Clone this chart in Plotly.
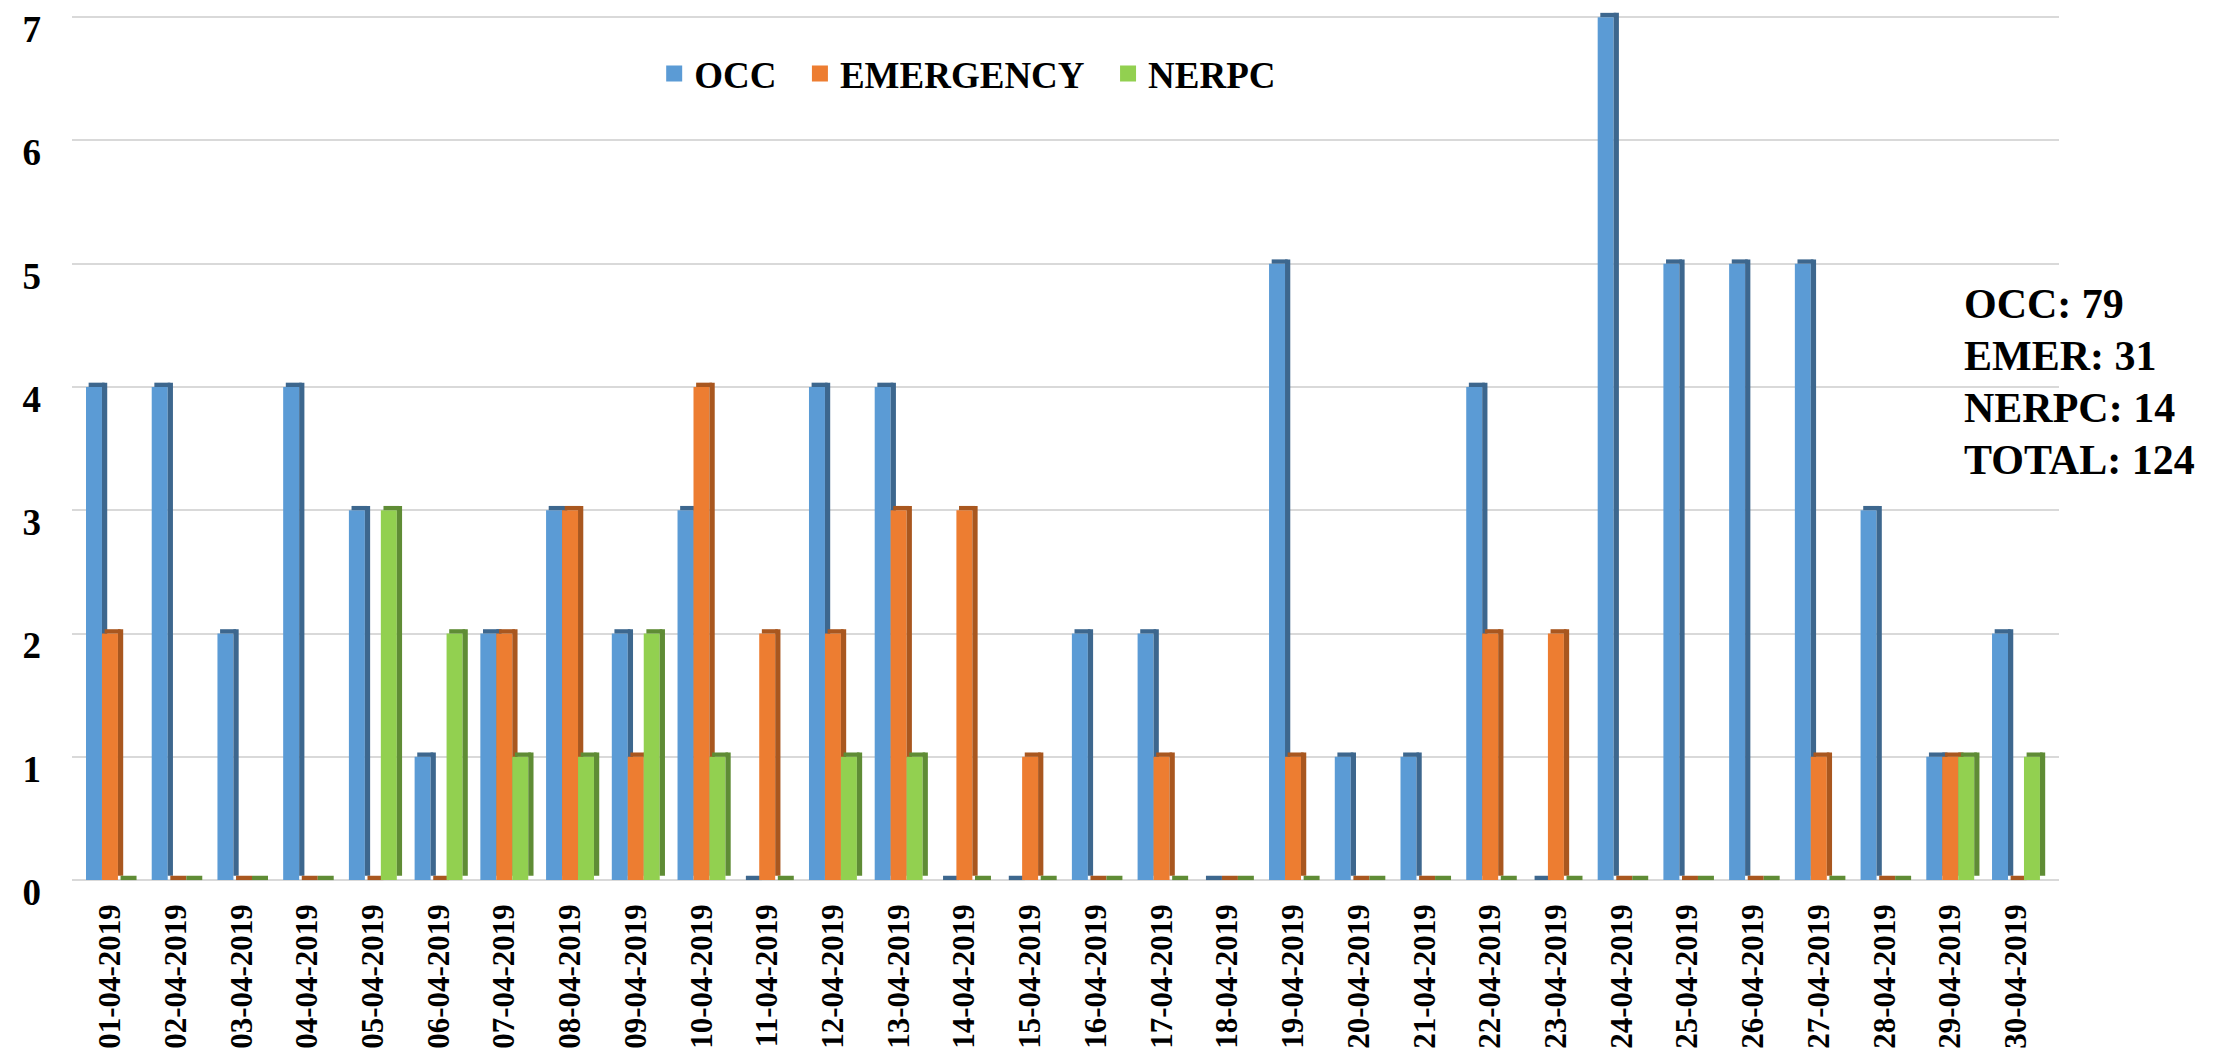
import plotly.graph_objects as go

dates = ["01-04-2019", "02-04-2019", "03-04-2019", "04-04-2019", "05-04-2019",
         "06-04-2019", "07-04-2019", "08-04-2019", "09-04-2019", "10-04-2019",
         "11-04-2019", "12-04-2019", "13-04-2019", "14-04-2019", "15-04-2019",
         "16-04-2019", "17-04-2019", "18-04-2019", "19-04-2019", "20-04-2019",
         "21-04-2019", "22-04-2019", "23-04-2019", "24-04-2019", "25-04-2019",
         "26-04-2019", "27-04-2019", "28-04-2019", "29-04-2019", "30-04-2019"]
occ = [4, 4, 2, 4, 3, 1, 2, 3, 2, 3, 0, 4, 4, 0, 0, 2, 2, 0, 5, 1, 1, 4, 0, 7, 5, 5, 5, 3, 1, 2]
emergency = [2, 0, 0, 0, 0, 0, 2, 3, 1, 4, 2, 2, 3, 3, 1, 0, 1, 0, 1, 0, 0, 2, 2, 0, 0, 0, 1, 0, 1, 0]
nerpc = [0, 0, 0, 0, 3, 2, 1, 1, 2, 1, 0, 1, 1, 0, 0, 0, 0, 0, 0, 0, 0, 0, 0, 0, 0, 0, 0, 0, 1, 1]
series_names = ["OCC", "EMERGENCY", "NERPC"]
y_ticks = [0, 1, 2, 3, 4, 5, 6, 7]

front_colors = ["#5B9BD5", "#ED7D31", "#92D050"]
dark_colors = ["#3D678E", "#A9571F", "#5F8C35"]

FONT = "Liberation Serif"
W = 2232
H = 1053
L, R, T, B = 64, 181, 3, 176

bw = 0.243      # front face width (category units)
depth = 0.08    # side depth (category units)
rise = 0.035    # 3D rise (value units)
start = -0.365

fig = go.Figure()
for k, (name, vals) in enumerate(zip(series_names, [occ, emergency, nerpc])):
    off = start + k * bw
    fig.add_trace(go.Bar(
        x=dates, y=vals, name=name, width=bw, offset=off,
        marker=dict(color=front_colors[k], line=dict(width=0)),
        showlegend=False, hoverinfo="x+y+name"))
    fig.add_trace(go.Bar(
        x=dates, y=vals, base=[rise] * len(vals), width=depth, offset=off + bw,
        marker=dict(color=dark_colors[k], line=dict(width=0)),
        showlegend=False, hoverinfo="skip"))
    fig.add_trace(go.Bar(
        x=dates, y=[rise] * len(vals), base=vals, width=bw, offset=off + depth / 2,
        marker=dict(color=dark_colors[k], line=dict(width=0)),
        showlegend=False, hoverinfo="skip"))

# legend entries (square keys)
for k, name in enumerate(series_names):
    fig.add_trace(go.Scatter(
        x=[None], y=[None], mode="markers", name=name + "\u00a0\u00a0",
        marker=dict(symbol="square", size=18, color=front_colors[k],
                    line=dict(width=0)),
        showlegend=True, hoverinfo="skip"))

totals = [sum(occ), sum(emergency), sum(nerpc)]
summary = [("OCC", totals[0]), ("EMER", totals[1]), ("NERPC", totals[2]),
           ("TOTAL", sum(totals))]
ann_y = [0.665, 0.605, 0.546, 0.486]
for (lab, val), yy in zip(summary, ann_y):
    fig.add_annotation(text=f"{lab}: {val}", xref="paper", yref="paper",
                       x=0.951, y=yy, xanchor="left", yanchor="middle",
                       showarrow=False,
                       font=dict(family=FONT, size=42, color="black", weight="bold"))

fig.update_layout(
    width=W, height=H,
    margin=dict(l=L, r=R, t=T, b=B, pad=0, autoexpand=False),
    barmode="overlay",
    plot_bgcolor="white", paper_bgcolor="white",
    font=dict(family=FONT, color="black", weight="bold"),
    legend=dict(orientation="h", x=0.293, y=0.928, xanchor="left", yanchor="middle",
                font=dict(family=FONT, size=37, color="black", weight="bold"),
                bgcolor="rgba(0,0,0,0)", itemclick=False, traceorder="normal"),
    xaxis=dict(type="category", range=[-0.578, 29.654], showgrid=False,
               showline=False, zeroline=False, ticks="", tickangle=-90,
               ticklabelstandoff=12, automargin=False,
               tickfont=dict(family=FONT, size=31, color="black", weight="bold")),
    yaxis=dict(range=[-0.04, 7.05], tickvals=y_ticks, showgrid=True,
               gridcolor="#D9D9D9", gridwidth=2, zeroline=False, showline=False,
               ticks="", ticklabelstandoff=30, ticklabelshift=12,
               ticklabeloverflow="allow", automargin=False,
               tickfont=dict(family=FONT, size=37, color="black", weight="bold")),
)

fig.write_html("out.html")
